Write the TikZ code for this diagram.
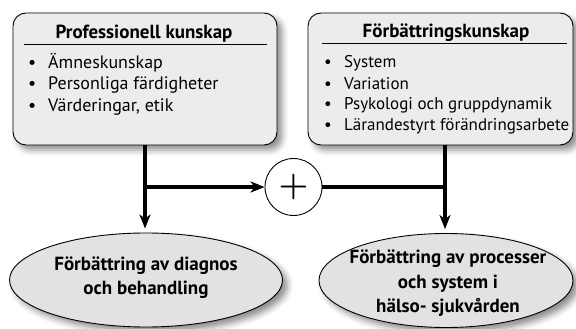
\documentclass[tikz,border=0pt]{standalone}
\usepackage{fontspec}
\setmainfont{PT Sans}
\newfontfamily\plusfont{Latin Modern Roman}
\usetikzlibrary{shapes.geometric,arrows.meta,shadows.blur}
\definecolor{boxfill}{RGB}{236,236,238}
\definecolor{ellfill}{RGB}{226,226,228}
\tikzset{
  card/.style={draw=black, line width=0.9pt, fill=boxfill, rounded corners=13pt,
    minimum width=264pt, minimum height=132pt, inner sep=0pt,
    blur shadow={shadow xshift=5pt, shadow yshift=-5pt, shadow blur radius=6pt, shadow opacity=45}},
  goal/.style={draw=black, line width=0.9pt, fill=ellfill, ellipse, inner sep=0pt,
    blur shadow={shadow xshift=5pt, shadow yshift=-5pt, shadow blur radius=6pt, shadow opacity=45}},
  title/.style={font=\fontsize{19}{22}\selectfont\bfseries, inner sep=0pt, anchor=base},
  item/.style={font=\fontsize{18}{21}\selectfont, inner sep=0pt, anchor=base west},
  itemr/.style={item, font=\fontsize{17}{21}\selectfont},
  goaltext/.style={font=\fontsize{19}{24.5}\selectfont\bfseries, inner sep=0pt, align=center},
  conn/.style={line width=3.3pt, line cap=butt},
  tip/.style={-{Stealth[length=14pt,width=11pt,inset=4pt]}},
}
\newcommand{\bul}{\makebox[20pt][l]{\textbullet}}
\begin{document}
\begin{tikzpicture}[x=1pt,y=-1pt]
\useasboundingbox (0,0) rectangle (576,329);
% boxes
\node[card] (lbox) at (145,79) {};
\node[card, minimum width=265pt] (rbox) at (440.5,79) {};
\node[title] (lt) at (144,38.5) {Professionell kunskap};
\node[title] (rt) at (446,37.5) {Förbättringskunskap};
\draw[line width=1pt] (24,44.5) coordinate (lr1) -- (267,44.5) coordinate (lr2);
\draw[line width=1pt] (322,43.5) coordinate (rr1) -- (567,43.5) coordinate (rr2);
\node[item] (l1) at (28,69) {\bul Ämneskunskap};
\node[item] (l2) at (28,90) {\bul Personliga färdigheter};
\node[item] (l3) at (28,111) {\bul Värderingar, etik};
\node[itemr] (r1) at (324,68) {\bul System};
\node[itemr] (r2) at (324,89) {\bul Variation};
\node[itemr] (r3) at (324,110) {\bul Psykologi och gruppdynamik};
\node[itemr] (r4) at (324,131) {\bul Lärandestyrt förändringsarbete};
% plus circle
\node[draw=black, line width=0.9pt, fill=white, circle, minimum size=57pt, inner sep=0pt,
  font=\plusfont\fontsize{34}{34}\selectfont\bfseries] (plus) at (293.5,187) {+};
% ellipses
\node[goal, minimum width=273pt, minimum height=94pt] (le) at (146,280) {};
\node[goal, minimum width=254pt, minimum height=94pt] (re) at (446,280.5) {};
\node[goaltext] (let) at (146,277.5) {Förbättring av diagnos\\och behandling};
\node[goaltext] (ret) at (448,283.5) {Förbättring av processer\\och system i\\hälso- sjukvården};
% connectors
\coordinate (rx) at ([xshift=4.5pt]rbox.south);
\draw[conn,tip,shorten >=4pt] (lbox.south) -- (lbox.south |- le.north);
\draw[conn,tip,shorten >=4pt] (rx) -- (rx |- re.north);
\draw[conn,tip] (lbox.south |- plus.west) -- (plus.west);
\draw[conn] (plus.east) -- (plus.east -| rx);
\end{tikzpicture}
\end{document}
